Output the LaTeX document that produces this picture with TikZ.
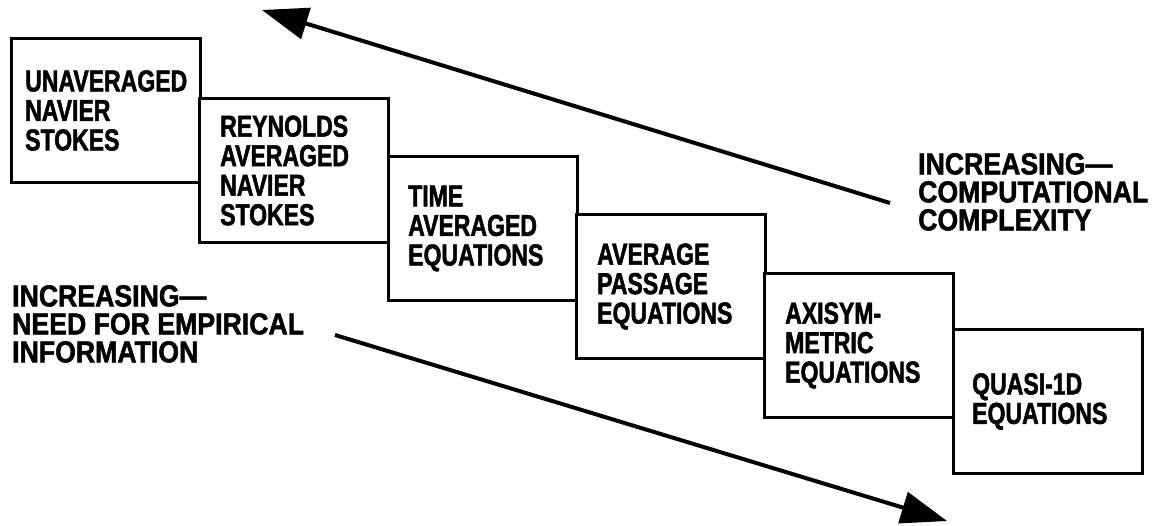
\documentclass[tikz,border=0pt]{standalone}
\usepackage{fontspec}
\usetikzlibrary{arrows.meta}
\newfontfamily\boxfont{Liberation Sans}[FakeStretch=0.76,FakeBold=1.6]
\newfontfamily\notefont{Liberation Sans}[FakeStretch=0.88,FakeBold=1.6]

\begin{document}
\begin{tikzpicture}[x=1pt,y=-1pt,
  stage/.style={draw=black,line width=3pt,fill=white,anchor=north west,
    minimum width=188.5pt,minimum height=144pt,inner sep=0pt},
  stagetext/.style={anchor=west,align=left,inner sep=0pt,
    font=\boxfont\bfseries\fontsize{30.3}{29.5}\selectfont},
  note/.style={anchor=north west,align=left,inner sep=0pt,
    font=\notefont\bfseries\fontsize{30.3}{28}\selectfont},
  trend/.style={line width=4pt,-{Triangle[length=46pt,width=32pt]}}]
\useasboundingbox (0,0) rectangle (1160,526);

% staircase of model levels
\node[stage] (b1) at (10,37) {};
\node[stage] (b2) at (198,97) {};
\node[stage] (b3) at (387,155) {};
\node[stage] (b4) at (575,213) {};
\node[stage] (b5) at (763,272) {};
\node[stage] (b6) at (952,328) {};

\node[stagetext] (t1) at ([xshift=15pt]b1.west) {UNAVERAGED\\NAVIER\\STOKES};
\node[stagetext] (t2) at ([xshift=22pt]b2.west) {REYNOLDS\\AVERAGED\\NAVIER\\STOKES};
\node[stagetext] (t3) at ([xshift=21pt]b3.west) {TIME\\AVERAGED\\EQUATIONS};
\node[stagetext] (t4) at ([xshift=22pt]b4.west) {AVERAGE\\PASSAGE\\EQUATIONS};
\node[stagetext] (t5) at ([xshift=22pt]b5.west) {AXISYM-\\METRIC\\EQUATIONS};
\node[stagetext] (t6) at ([xshift=20pt]b6.west) {QUASI-1D\\EQUATIONS};

% trend labels
\node[note] (cc) at (918,153) {INCREASING—\\COMPUTATIONAL\\COMPLEXITY};
\node[note] (ei) at (12,285) {INCREASING—\\NEED FOR EMPIRICAL\\INFORMATION};

% trend arrows
\coordinate (ccTail) at (890,203);
\coordinate (ccTip) at (262,10);
\coordinate (eiTail) at (335,335);
\coordinate (eiTip) at (947,521);
\draw[trend] (ccTail) -- (ccTip);
\draw[trend] (eiTail) -- (eiTip);
\end{tikzpicture}
\end{document}
